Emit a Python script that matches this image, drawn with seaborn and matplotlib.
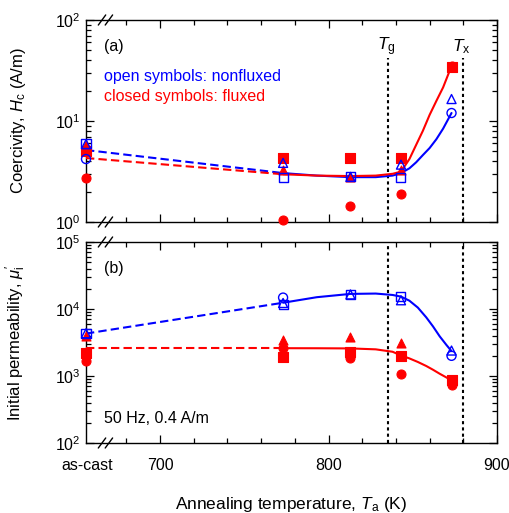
import numpy as np
import pandas as pd
import matplotlib
matplotlib.use("Agg")
import matplotlib.pyplot as plt
import matplotlib.transforms as mtransforms
from matplotlib.ticker import FixedLocator, NullFormatter, LogLocator
import seaborn as sns

# ---------------- data ----------------
AS_CAST = 656.0
temps = [AS_CAST, 773, 813, 843, 873]
tick_labels = ["as-cast", "700", "800", "900"]

# Coercivity Hc (A/m)
hc_open_square = [6.0, 2.75, 2.8, 2.75, np.nan]
hc_open_triangle = [5.9, 3.85, 2.8, 3.7, 16.5]
hc_open_circle = [4.2, np.nan, np.nan, np.nan, 12.0]
hc_closed_square = [5.0, 4.3, 4.3, 4.3, 34.0]
hc_closed_triangle = [5.8, 3.3, 2.8, 3.3, np.nan]
hc_closed_circle = [2.75, 1.05, 1.45, 1.9, 35.0]

# Initial permeability
mu_open_square = [4350, 11600, 16500, 15500, np.nan]
mu_open_triangle = [4350, 12300, 16500, 13500, 2400]
mu_open_circle = [np.nan, 14800, np.nan, np.nan, 2000]
mu_closed_square = [2200, 1900, 2300, 2000, 870]
mu_closed_triangle = [3900, 3400, 3800, 3150, np.nan]
mu_closed_circle = [1650, 2600, 1850, 1070, 740]

# guide lines
hc_dash_T = [AS_CAST, 773]
hc_open_dash = [5.16, 3.05]
hc_closed_dash = [4.3, 2.97]
hc_curve_T = [773, 793, 813, 828, 838, 843, 848, 852, 856, 860, 864, 868, 873]
hc_open_curve = [3.05, 2.88, 2.78, 2.78, 2.88, 3.05, 3.4, 3.9, 4.6, 5.4, 6.6, 8.4, 12.0]
hc_closed_curve = [2.97, 2.88, 2.85, 2.88, 3.0, 3.15, 4.2, 5.8, 8.0, 11.5, 15.8, 21.5, 35.0]

mu_dash_T = [AS_CAST, 773]
mu_open_dash = [4300, 12400]
mu_closed_dash = [2600, 2600]
mu_curve_T = [773, 793, 813, 828, 838, 843, 848, 853, 858, 862, 866, 870, 873]
mu_open_curve = [12400, 15000, 16800, 17000, 16200, 15300, 13300, 10500, 7500, 5500, 3900, 2900, 2350]
mu_closed_curve = [2600, 2595, 2580, 2500, 2300, 2030, 1830, 1620, 1410, 1240, 1080, 950, 860]

T_G = 835
T_X = 880

BLUE = "#0000ff"
RED = "#ff0000"

# ---------------- style ----------------
sns.set_theme(style="ticks")
plt.rcParams["font.family"] = ["Liberation Sans", "DejaVu Sans"]
plt.rcParams["mathtext.fontset"] = "custom"
plt.rcParams["mathtext.rm"] = "Liberation Sans"
plt.rcParams["mathtext.it"] = "Liberation Sans:italic"
plt.rcParams["mathtext.default"] = "regular"
plt.rcParams["text.color"] = "black"
plt.rcParams["axes.labelcolor"] = "black"
plt.rcParams["xtick.color"] = "black"
plt.rcParams["ytick.color"] = "black"
plt.rcParams["xtick.labelcolor"] = "black"
plt.rcParams["ytick.labelcolor"] = "black"

fig = plt.figure(figsize=(5.10, 5.13), dpi=100)
L, R = 86 / 510, 497 / 510
ax1 = fig.add_axes([L, 1 - 222 / 513, R - L, (222 - 20) / 513])
ax2 = fig.add_axes([L, 1 - 443 / 513, R - L, (443 - 242) / 513])

FS = 11.5
MS = 42


def scatter(ax, vals, marker, color, filled):
    df = pd.DataFrame({"T": temps, "v": vals}).dropna()
    if filled:
        sns.scatterplot(data=df, x="T", y="v", marker=marker, s=MS, color=color,
                        edgecolor=color, linewidth=0.8, ax=ax, clip_on=False, zorder=4)
    else:
        sns.scatterplot(data=df, x="T", y="v", marker=marker, s=MS, facecolor="none",
                        edgecolor=color, linewidth=1.0, ax=ax, clip_on=False, zorder=5)


def line(ax, xs, ys, color, dashed):
    df = pd.DataFrame({"T": xs, "v": ys})
    sns.lineplot(data=df, x="T", y="v", color=color, lw=1.5, ax=ax, sort=False,
                 estimator=None, linestyle=(0, (4, 2)) if dashed else "-", zorder=3)


for ax in (ax1, ax2):
    ax.set_xscale("linear")
    ax.set_yscale("log")

# top panel
line(ax1, hc_dash_T, hc_open_dash, BLUE, True)
line(ax1, hc_dash_T, hc_closed_dash, RED, True)
line(ax1, hc_curve_T, hc_open_curve, BLUE, False)
line(ax1, hc_curve_T, hc_closed_curve, RED, False)
scatter(ax1, hc_closed_circle, "o", RED, True)
scatter(ax1, hc_closed_square, "s", RED, True)
scatter(ax1, hc_closed_triangle, "^", RED, True)
scatter(ax1, hc_open_circle, "o", BLUE, False)
scatter(ax1, hc_open_square, "s", BLUE, False)
scatter(ax1, hc_open_triangle, "^", BLUE, False)

# bottom panel
line(ax2, mu_dash_T, mu_open_dash, BLUE, True)
line(ax2, mu_dash_T, mu_closed_dash, RED, True)
line(ax2, mu_curve_T, mu_open_curve, BLUE, False)
line(ax2, mu_curve_T, mu_closed_curve, RED, False)
scatter(ax2, mu_closed_circle, "o", RED, True)
scatter(ax2, mu_closed_square, "s", RED, True)
scatter(ax2, mu_closed_triangle, "^", RED, True)
scatter(ax2, mu_open_circle, "o", BLUE, False)
scatter(ax2, mu_open_square, "s", BLUE, False)
scatter(ax2, mu_open_triangle, "^", BLUE, False)

ax1.set_ylim(1, 100)
ax2.set_ylim(100, 1e5)

for ax in (ax1, ax2):
    ax.set_xlim(AS_CAST, 900)
    ax.xaxis.set_major_locator(FixedLocator([700, 800, 900]))
    ax.xaxis.set_minor_locator(FixedLocator([680, 720, 740, 760, 780, 820, 840, 860, 880]))
    ax.yaxis.set_minor_locator(LogLocator(base=10, subs=np.arange(2, 10)))
    ax.yaxis.set_minor_formatter(NullFormatter())
    ax.tick_params(which="both", direction="in", top=True, right=True, color="black",
                   labelcolor="black", labelsize=FS, width=0.9)
    ax.tick_params(which="major", length=6, pad=4)
    ax.tick_params(which="minor", length=3.5)
    ax.tick_params(axis="x", pad=11)
    for sp in ax.spines.values():
        sp.set_color("black")
        sp.set_linewidth(1.0)
    ax.set_xlabel("")
    ax.grid(False)
    # axis break marks
    trans = mtransforms.blended_transform_factory(ax.transData, ax.transAxes)
    for yb in (0.0, 1.0):
        for xc in (665.5, 669.6):
            ax.plot([xc - 2.2, xc + 2.2], [yb - 0.025, yb + 0.025], color="black",
                    lw=1.0, transform=trans, clip_on=False, zorder=6)

ax1.tick_params(axis="x", labelbottom=False)
ax2.set_xticklabels(tick_labels[1:])
ax2.text(AS_CAST + 1, -0.075, tick_labels[0], transform=mtransforms.blended_transform_factory(
    ax2.transData, ax2.transAxes), ha="center", va="top", fontsize=FS, color="black")

# vertical Tg, Tx lines
ax1.vlines([T_G, T_X], 1, 42, colors="black", linestyles=(0, (1.5, 1.5)), lw=1.5, zorder=2)
ax2.vlines([T_G, T_X], 100, 1e5, colors="black", linestyles=(0, (1.5, 1.5)), lw=1.5, zorder=2)
ax1.text(T_G - 1, 54, r"$\mathit{T}_\mathrm{g}$", ha="center", va="center", fontsize=FS + 1)
ax1.text(T_X - 1, 54, r"$\mathit{T}_\mathrm{x}$", ha="center", va="center", fontsize=FS + 1)

# annotations
ax1.text(0.045, 0.87, "(a)", transform=ax1.transAxes, fontsize=FS, va="center")
ax1.text(0.045, 0.72, "open symbols: nonfluxed", transform=ax1.transAxes, fontsize=FS,
         color=BLUE, va="center")
ax1.text(0.045, 0.62, "closed symbols: fluxed", transform=ax1.transAxes, fontsize=FS,
         color=RED, va="center")
ax2.text(0.045, 0.87, "(b)", transform=ax2.transAxes, fontsize=FS, va="center")
ax2.text(0.045, 0.12, "50 Hz, 0.4 A/m", transform=ax2.transAxes, fontsize=FS, va="center")

ax1.set_ylabel(r"Coercivity, $\mathit{H}_\mathrm{c}$ (A/m)", fontsize=FS + 0.5)
ax2.set_ylabel(r"Initial permeability, $\mathit{\mu}_\mathrm{i}^{\prime}$", fontsize=FS + 0.5)
ax2.set_xlabel(r"Annealing temperature, $\mathit{T}_\mathrm{a}$ (K)", fontsize=FS + 1, labelpad=16)
ax1.yaxis.set_label_coords(-0.14, 0.5)
ax2.yaxis.set_label_coords(-0.14, 0.5)

fig.savefig("out.png", dpi=100)
